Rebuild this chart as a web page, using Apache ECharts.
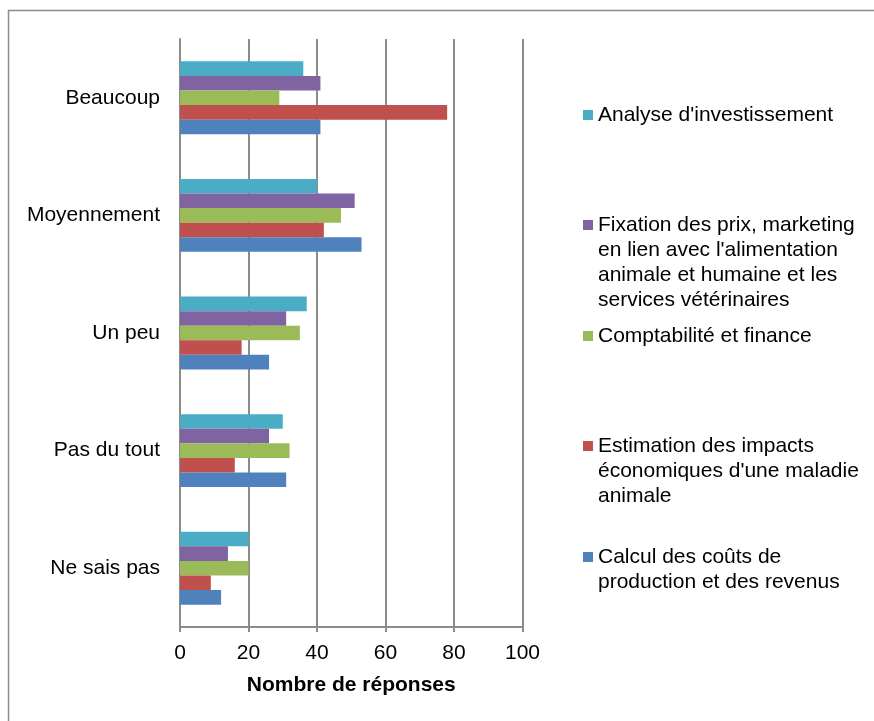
<!DOCTYPE html>
<html>
<head>
<meta charset="utf-8">
<script src="https://cdn.jsdelivr.net/npm/echarts@6/dist/echarts.min.js"></script>
<style>
  html, body { margin: 0; padding: 0; background: #fff; }
  #chart { width: 874px; height: 721px; }
</style>
</head>
<body>
<div id="chart"></div>
<script>
// categories, bottom to top (like the Excel original)
var categories = ['Ne sais pas', 'Pas du tout', 'Un peu', 'Moyennement', 'Beaucoup'];

// series, top of each group first
var seriesNames = [
  'Analyse d\'investissement',
  'Fixation des prix, marketing\nen lien avec l\'alimentation\nanimale et humaine et les\nservices vétérinaires',
  'Comptabilité et finance',
  'Estimation des impacts\néconomiques d\'une maladie\nanimale',
  'Calcul des coûts de\nproduction et des revenus'
];
var colors = ['#4BACC6', '#8064A2', '#9BBB59', '#C0504D', '#4F81BD'];

var analyse     = [20, 30, 37, 40, 36];
var fixation    = [14, 26, 31, 51, 41];
var comptab     = [20, 32, 35, 47, 29];
var estimation  = [9, 16, 18, 42, 78];
var calcul      = [12, 31, 26, 53, 41];
var values = [analyse, fixation, comptab, estimation, calcul];

var xTicks = { min: 0, max: 100, interval: 20 };

var font = 'Liberation Sans, Arial, sans-serif';
var gray = '#8c8c8c';
var lineH = 25;

// one legend per entry so the marker sits on the first text line
var legendCenters = [115, 225, 336, 446, 557];
var legends = seriesNames.map(function (name, i) {
  var n = name.split('\n').length;
  var half = (2 * n - 1) * lineH / 2;
  return {
    data: [name],
    left: 583,
    top: legendCenters[i] - half,
    padding: 0,
    itemWidth: 10,
    itemHeight: 10,
    itemGap: 4,
    icon: 'rect',
    selectedMode: false,
    formatter: function (s) {
      // blank lines above so the first line is centred on the marker
      return new Array(n).join('\n') + s;
    },
    textStyle: {
      fontFamily: font,
      fontSize: 21,
      color: '#000',
      lineHeight: lineH
    }
  };
});

var series = seriesNames.map(function (name, i) {
  return {
    name: name,
    type: 'bar',
    data: values[i],
    barGap: '0%',
    barCategoryGap: '38%',
    itemStyle: { color: colors[i] }
  };
});

var chart = echarts.init(document.getElementById('chart'));
chart.setOption({
  animation: false,
  color: colors,
  grid: { left: 180, right: 351.5, top: 39, bottom: 94, containLabel: false },
  legend: legends,
  xAxis: {
    type: 'value',
    min: xTicks.min,
    max: xTicks.max,
    interval: xTicks.interval,
    name: 'Nombre de réponses',
    nameLocation: 'middle',
    nameGap: 48,
    nameTextStyle: { fontFamily: font, fontSize: 21, fontWeight: 'bold', color: '#000' },
    axisLine: { show: true, lineStyle: { color: gray, width: 2 } },
    axisTick: { show: true, length: 5, lineStyle: { color: gray, width: 2 } },
    axisLabel: { fontFamily: font, fontSize: 21, color: '#000', margin: 16 },
    splitLine: { show: true, lineStyle: { color: gray, width: 2 } }
  },
  yAxis: {
    type: 'category',
    data: categories,
    axisLine: { show: true, lineStyle: { color: gray, width: 2 } },
    axisTick: { show: false },
    axisLabel: { fontFamily: font, fontSize: 21, color: '#000', margin: 20 }
  },
  graphic: [{
    type: 'rect',
    shape: { x: 8.5, y: 10.5, width: 900, height: 800 },
    style: { fill: null, stroke: gray, lineWidth: 1.5 },
    silent: true
  }],
  series: series
});
</script>
</body>
</html>
